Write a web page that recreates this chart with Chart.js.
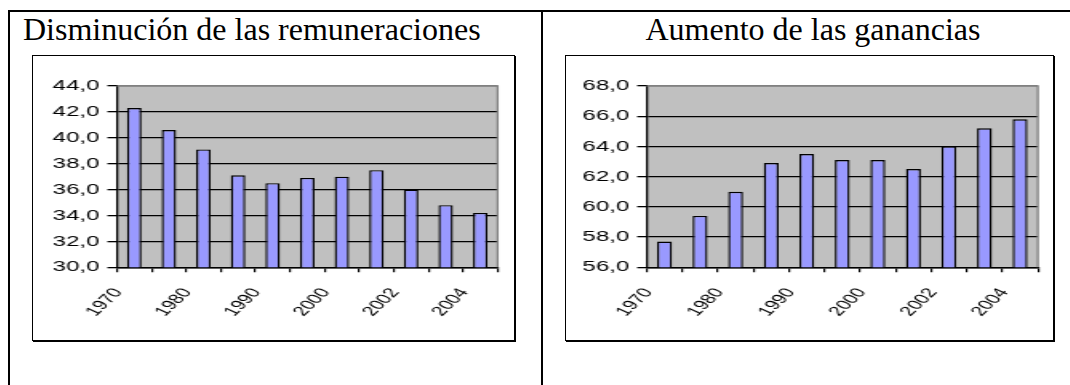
<!DOCTYPE html>
<html>
<head>
<meta charset="utf-8">
<script src="https://cdn.jsdelivr.net/npm/chart.js@4.4.0/dist/chart.umd.min.js"></script>
<style>
  body { margin: 0; background: #fff; width: 1070px; height: 385px; position: relative; overflow: hidden; }
  .line { position: absolute; background: #000; }
  .title { position: absolute; top: 13px; font-family: 'Liberation Serif', 'Times New Roman', serif; font-size: 32px; line-height: 32px; color: #000; white-space: nowrap; }
  .box { position: absolute; top: 55px; height: 286px; box-sizing: border-box; border: 1px solid #000; box-shadow: 1px 1px 0 #000; background: #fff; }
  .box canvas { display: block; }
</style>
</head>
<body>
<div class="line" style="left:8px; top:10px; width:1062px; height:2px"></div>
<div class="line" style="left:8px; top:10px; width:2px; height:375px"></div>
<div class="line" style="left:541px; top:10px; width:2px; height:375px"></div>

<div class="title" style="left:23px">Disminución de las remuneraciones</div>
<div class="title" style="left:541px; width:544px; text-align:center">Aumento de las ganancias</div>

<!-- the original charts are stretched sideways, so the canvases are drawn narrow and widened by css -->
<div class="box" style="left:32px; width:483px"><canvas id="remun" width="300" height="284" style="width:480px; height:284px"></canvas></div>
<div class="box" style="left:565px; width:489px"><canvas id="ganan" width="304" height="284" style="width:486.4px; height:284px"></canvas></div>

<script>
// categories (only every other one carries a label in the picture)
const tickLabels = ['1970', '', '1980', '', '1990', '', '2000', '', '2002', '', '2004'];

// series values
const remuneraciones = [42.3, 40.6, 39.1, 37.1, 36.5, 36.9, 37.0, 37.5, 36.0, 34.8, 34.2];
const ganancias = [57.7, 59.4, 61.0, 62.9, 63.5, 63.1, 63.1, 62.5, 64.0, 65.2, 65.8];

// value axis ranges [min, max, step]
const remunAxis = [30, 44, 2];
const gananAxis = [56, 68, 2];

Chart.defaults.font.family = "'Liberation Sans', Arial, sans-serif";
Chart.defaults.color = '#000';

// gray plot area with a gray frame on top and right, like excel
const plotArea = {
    id: 'plotArea',
    beforeDraw(chart) {
        const { ctx, chartArea: a } = chart;
        ctx.save();
        ctx.fillStyle = '#C0C0C0';
        ctx.fillRect(a.left, a.top, a.right - a.left, a.bottom - a.top);
        ctx.restore();
    },
    beforeDatasetsDraw(chart) {
        const { ctx, chartArea: a } = chart;
        ctx.save();
        ctx.strokeStyle = '#808080';
        ctx.lineWidth = 1.3;
        ctx.beginPath();
        ctx.moveTo(a.left, a.top);
        ctx.lineTo(a.right, a.top);
        ctx.lineTo(a.right, a.bottom);
        ctx.stroke();
        ctx.restore();
    }
};

function drawBars(id, values, axis, yWidth, rightPad) {
    const [min, max, step] = axis;
    new Chart(document.getElementById(id), {
        type: 'bar',
        data: {
            labels: tickLabels,
            datasets: [{
                data: values,
                backgroundColor: '#9999FF',
                borderColor: '#000',
                borderWidth: 1.4,
                barPercentage: 0.42,
                categoryPercentage: 1
            }]
        },
        options: {
            responsive: false,
            animation: false,
            layout: { padding: { top: 30, right: rightPad, bottom: 0, left: 0 } },
            plugins: { legend: { display: false }, tooltip: { enabled: false } },
            scales: {
                x: {
                    grid: { offset: true, drawOnChartArea: false, tickLength: 5, color: '#000', lineWidth: 1.2 },
                    border: { color: '#000', width: 1.5 },
                    ticks: { autoSkip: false, minRotation: 55, maxRotation: 55, labelOffset: -10, padding: 13, font: { size: 13.5 } },
                    afterFit: s => {
                        s.height = 72.7;
                        // keep the rotated labels from pushing the plot edges in
                        s.paddingLeft = 0;
                        s.paddingRight = 0;
                    }
                },
                y: {
                    min: min,
                    max: max,
                    ticks: {
                        stepSize: step,
                        padding: 5,
                        font: { size: 15 },
                        callback: v => v.toFixed(1).replace('.', ',')
                    },
                    grid: {
                        color: c => c.tick && c.tick.value === max ? '#808080' : '#000',
                        tickColor: '#000',
                        lineWidth: 1.3,
                        tickLength: 6
                    },
                    border: { color: '#000', width: 1.3 },
                    afterFit: s => { s.width = yWidth; }
                }
            }
        },
        plugins: [plotArea]
    });
}

drawBars('remun', remuneraciones, remunAxis, 52.5, 9.6);
drawBars('ganan', ganancias, gananAxis, 50.5, 8.9);
</script>
</body>
</html>
